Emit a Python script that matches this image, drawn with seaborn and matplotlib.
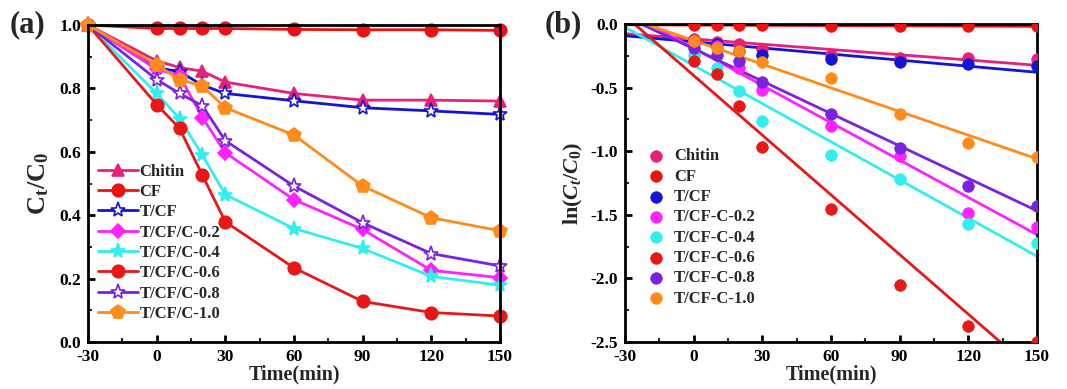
import numpy as np
import pandas as pd
import matplotlib
matplotlib.use("Agg")
import matplotlib.pyplot as plt
import seaborn as sns
from matplotlib.ticker import MultipleLocator

sns.set_theme(style="ticks")
plt.rcParams['font.family'] = ['Liberation Serif', 'DejaVu Serif']
plt.rcParams['font.weight'] = 'bold'
plt.rcParams['axes.labelweight'] = 'bold'
plt.rcParams['axes.unicode_minus'] = False
plt.rcParams['mathtext.fontset'] = 'custom'
plt.rcParams['mathtext.rm'] = 'Liberation Serif:bold'
plt.rcParams['mathtext.it'] = 'Liberation Serif:bold:italic'
plt.rcParams['mathtext.bf'] = 'Liberation Serif:bold'

# ---------------- data ----------------
time = [-30, 0, 10, 20, 30, 60, 90, 120, 150]
labels_a = ["Chitin", "CF", "T/CF", "T/CF/C-0.2", "T/CF/C-0.4",
            "T/CF/C-0.6", "T/CF/C-0.8", "T/CF/C-1.0"]
labels_b = ["Chitin", "CF", "T/CF", "T/CF-C-0.2", "T/CF-C-0.4",
            "T/CF-C-0.6", "T/CF-C-0.8", "T/CF-C-1.0"]
chitin = [1.0, 0.887, 0.866, 0.854, 0.820, 0.784, 0.763, 0.763, 0.760]
cf     = [1.0, 0.989, 0.989, 0.989, 0.989, 0.986, 0.985, 0.985, 0.983]
t_cf   = [1.0, 0.865, 0.853, 0.810, 0.784, 0.761, 0.739, 0.729, 0.718]
c02    = [1.0, 0.860, 0.840, 0.708, 0.597, 0.449, 0.355, 0.226, 0.203]
c04    = [1.0, 0.784, 0.705, 0.589, 0.465, 0.358, 0.295, 0.207, 0.179]
c06    = [1.0, 0.749, 0.674, 0.526, 0.379, 0.234, 0.128, 0.093, 0.082]
c08    = [1.0, 0.828, 0.784, 0.745, 0.635, 0.492, 0.376, 0.279, 0.240]
c10    = [1.0, 0.874, 0.828, 0.807, 0.739, 0.653, 0.492, 0.392, 0.351]
series = [chitin, cf, t_cf, c02, c04, c06, c08, c10]

colors = ["#E8207A", "#EE1111", "#1414D8", "#FF22FF", "#33EEEE",
          "#E81818", "#7A22E0", "#FF8C1A"]
markers = ["^", "o", "*", "D", "*", "o", "*", "p"]
mfaces = ["#E8207A", "#EE1111", "white", "#FF22FF", "#33EEEE",
          "#E81818", "white", "#FF8C1A"]
msizes = [9, 9, 11, 7, 11, 9, 11, 10]

fig = plt.figure(figsize=(10.67, 3.89), dpi=100)
W, H = 1067, 389
axa = fig.add_axes([88 / W, 1 - 342 / H, (500 - 88) / W, (342 - 25) / H])
axb = fig.add_axes([625 / W, 1 - 342 / H, (1037 - 625) / W, (342 - 24) / H])

def style(ax):
    for s in ax.spines.values():
        s.set_linewidth(2)
        s.set_color('black')
    ax.tick_params(which='major', direction='in', length=5, width=2,
                   labelsize=12.5, top=False, right=False, pad=5, colors='black')
    ax.tick_params(which='minor', direction='in', length=3, width=1.5,
                   top=False, right=False)
    for lab in ax.get_xticklabels() + ax.get_yticklabels():
        lab.set_fontweight('bold')

# ---------------- panel a ----------------
for lab, vals, c, m, mf, ms in zip(labels_a, series, colors, markers, mfaces, msizes):
    df = pd.DataFrame({"t": time, "v": vals})
    sns.lineplot(data=df, x="t", y="v", ax=axa, color=c, marker=m, markersize=ms,
                 markerfacecolor=mf, markeredgecolor=c, markeredgewidth=1.2,
                 linewidth=2, label=lab, clip_on=False)
axa.set_xlim(-30, 150)
axa.set_ylim(0, 1.0)
axa.xaxis.set_major_locator(MultipleLocator(30))
axa.xaxis.set_minor_locator(MultipleLocator(15))
axa.yaxis.set_major_locator(MultipleLocator(0.2))
axa.yaxis.set_minor_locator(MultipleLocator(0.1))
axa.set_xlabel("Time(min)", fontsize=14.5, fontweight='bold', labelpad=0)
axa.set_ylabel(r"$\mathrm{C_t/C_0}$", fontsize=19, labelpad=6)
style(axa)
axa.legend(loc='lower left', bbox_to_anchor=(0.0, 0.032), frameon=False,
           handlelength=2.4, handletextpad=0.1,
           labelspacing=0.26, borderaxespad=0.2,
           prop={'weight': 'bold', 'size': 12})
fig.text(10 / W, 1 - 25 / H, "(a)", fontsize=22, fontweight='bold', va='center')

# ---------------- panel b ----------------
axb.set_xlim(-30, 150)
axb.set_ylim(-2.5, 0.0)
for lab, vals, c in zip(labels_b, series, colors):
    lnv = np.log(np.array(vals))
    df_all = pd.DataFrame({"t": time, "v": lnv})
    sns.regplot(data=df_all, x="t", y="v", ax=axb, scatter=False, ci=None,
                truncate=False, color=c, line_kws={"linewidth": 2})
for lab, vals, c in zip(labels_b, series, colors):
    lnv = np.log(np.array(vals))
    df_pts = pd.DataFrame({"t": time[1:], "v": lnv[1:]})
    sns.scatterplot(data=df_pts, x="t", y="v", ax=axb, color=c, s=70,
                    edgecolor=c, linewidth=0.5, label=lab, zorder=3)
axb.set_xlim(-30, 150)
axb.set_ylim(-2.5, 0.0)
axb.xaxis.set_major_locator(MultipleLocator(30))
axb.xaxis.set_minor_locator(MultipleLocator(15))
axb.yaxis.set_major_locator(MultipleLocator(0.5))
axb.yaxis.set_minor_locator(MultipleLocator(0.25))
axb.set_xlabel("Time(min)", fontsize=14.5, fontweight='bold', labelpad=0)
axb.set_ylabel(r"ln($C_t/C_0$)", fontsize=16, labelpad=4)
style(axb)
axb.legend(loc='lower left', bbox_to_anchor=(0.01, 0.08), frameon=False,
           handletextpad=0.1, labelspacing=0.26, borderaxespad=0.2,
           prop={'weight': 'bold', 'size': 12})
fig.text(545 / W, 1 - 25 / H, "(b)", fontsize=22, fontweight='bold', va='center')

fig.savefig("out.png", dpi=100)
